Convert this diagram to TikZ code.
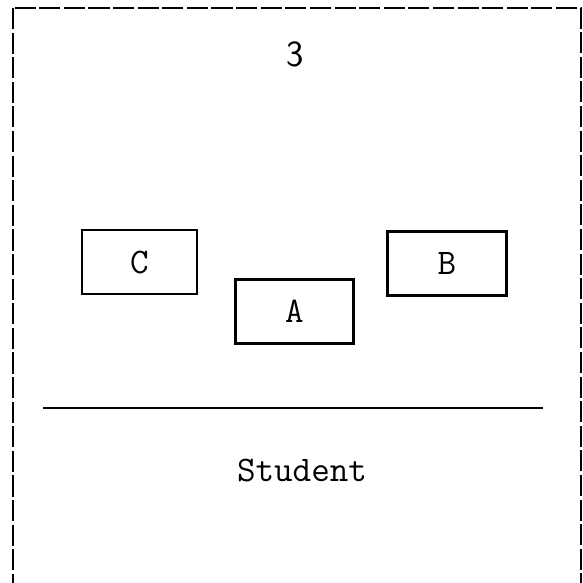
\documentclass[tikz,border=0pt]{standalone}
\usepackage{fontspec}
\begin{document}
\begin{tikzpicture}[x=0.2mm,y=-0.2mm,
  seat/.style={draw, line width=1.3pt, minimum width=23mm, minimum height=12.8mm,
               inner sep=0pt, font=\fontsize{20.5}{22}\selectfont\ttfamily},
  label/.style={inner sep=0pt, font=\fontsize{20.5}{22}\selectfont\ttfamily},
  frame/.style={line width=1.1pt, dash pattern=on 12pt off 2pt}]
  \useasboundingbox (0,0) rectangle (583,583);
  % dashed outer frame (its lower edge runs past the page)
  \begin{scope}
    \clip (0,0) rectangle (583,583);
    \draw[frame] (13,8) rectangle (581,620);
  \end{scope}
  % page number
  \node[inner sep=0pt, font=\fontsize{21}{23}\selectfont\sffamily] (num) at (295,54) {3};
  % the three desks
  \node[seat] (C) at (139.5,262) {C};
  \node[seat, minimum width=23.6mm] (A) at (294.5,311.5) {A};
  \node[seat, minimum width=23.8mm] (B) at (447,263.5) {B};
  % front line and the student's place
  \coordinate (l) at (43,408);
  \coordinate (r) at (543,408);
  \draw[line width=1.1pt] (l) -- (r);
  \node[label] (S) at (302,470) {Student};
\end{tikzpicture}
\end{document}
